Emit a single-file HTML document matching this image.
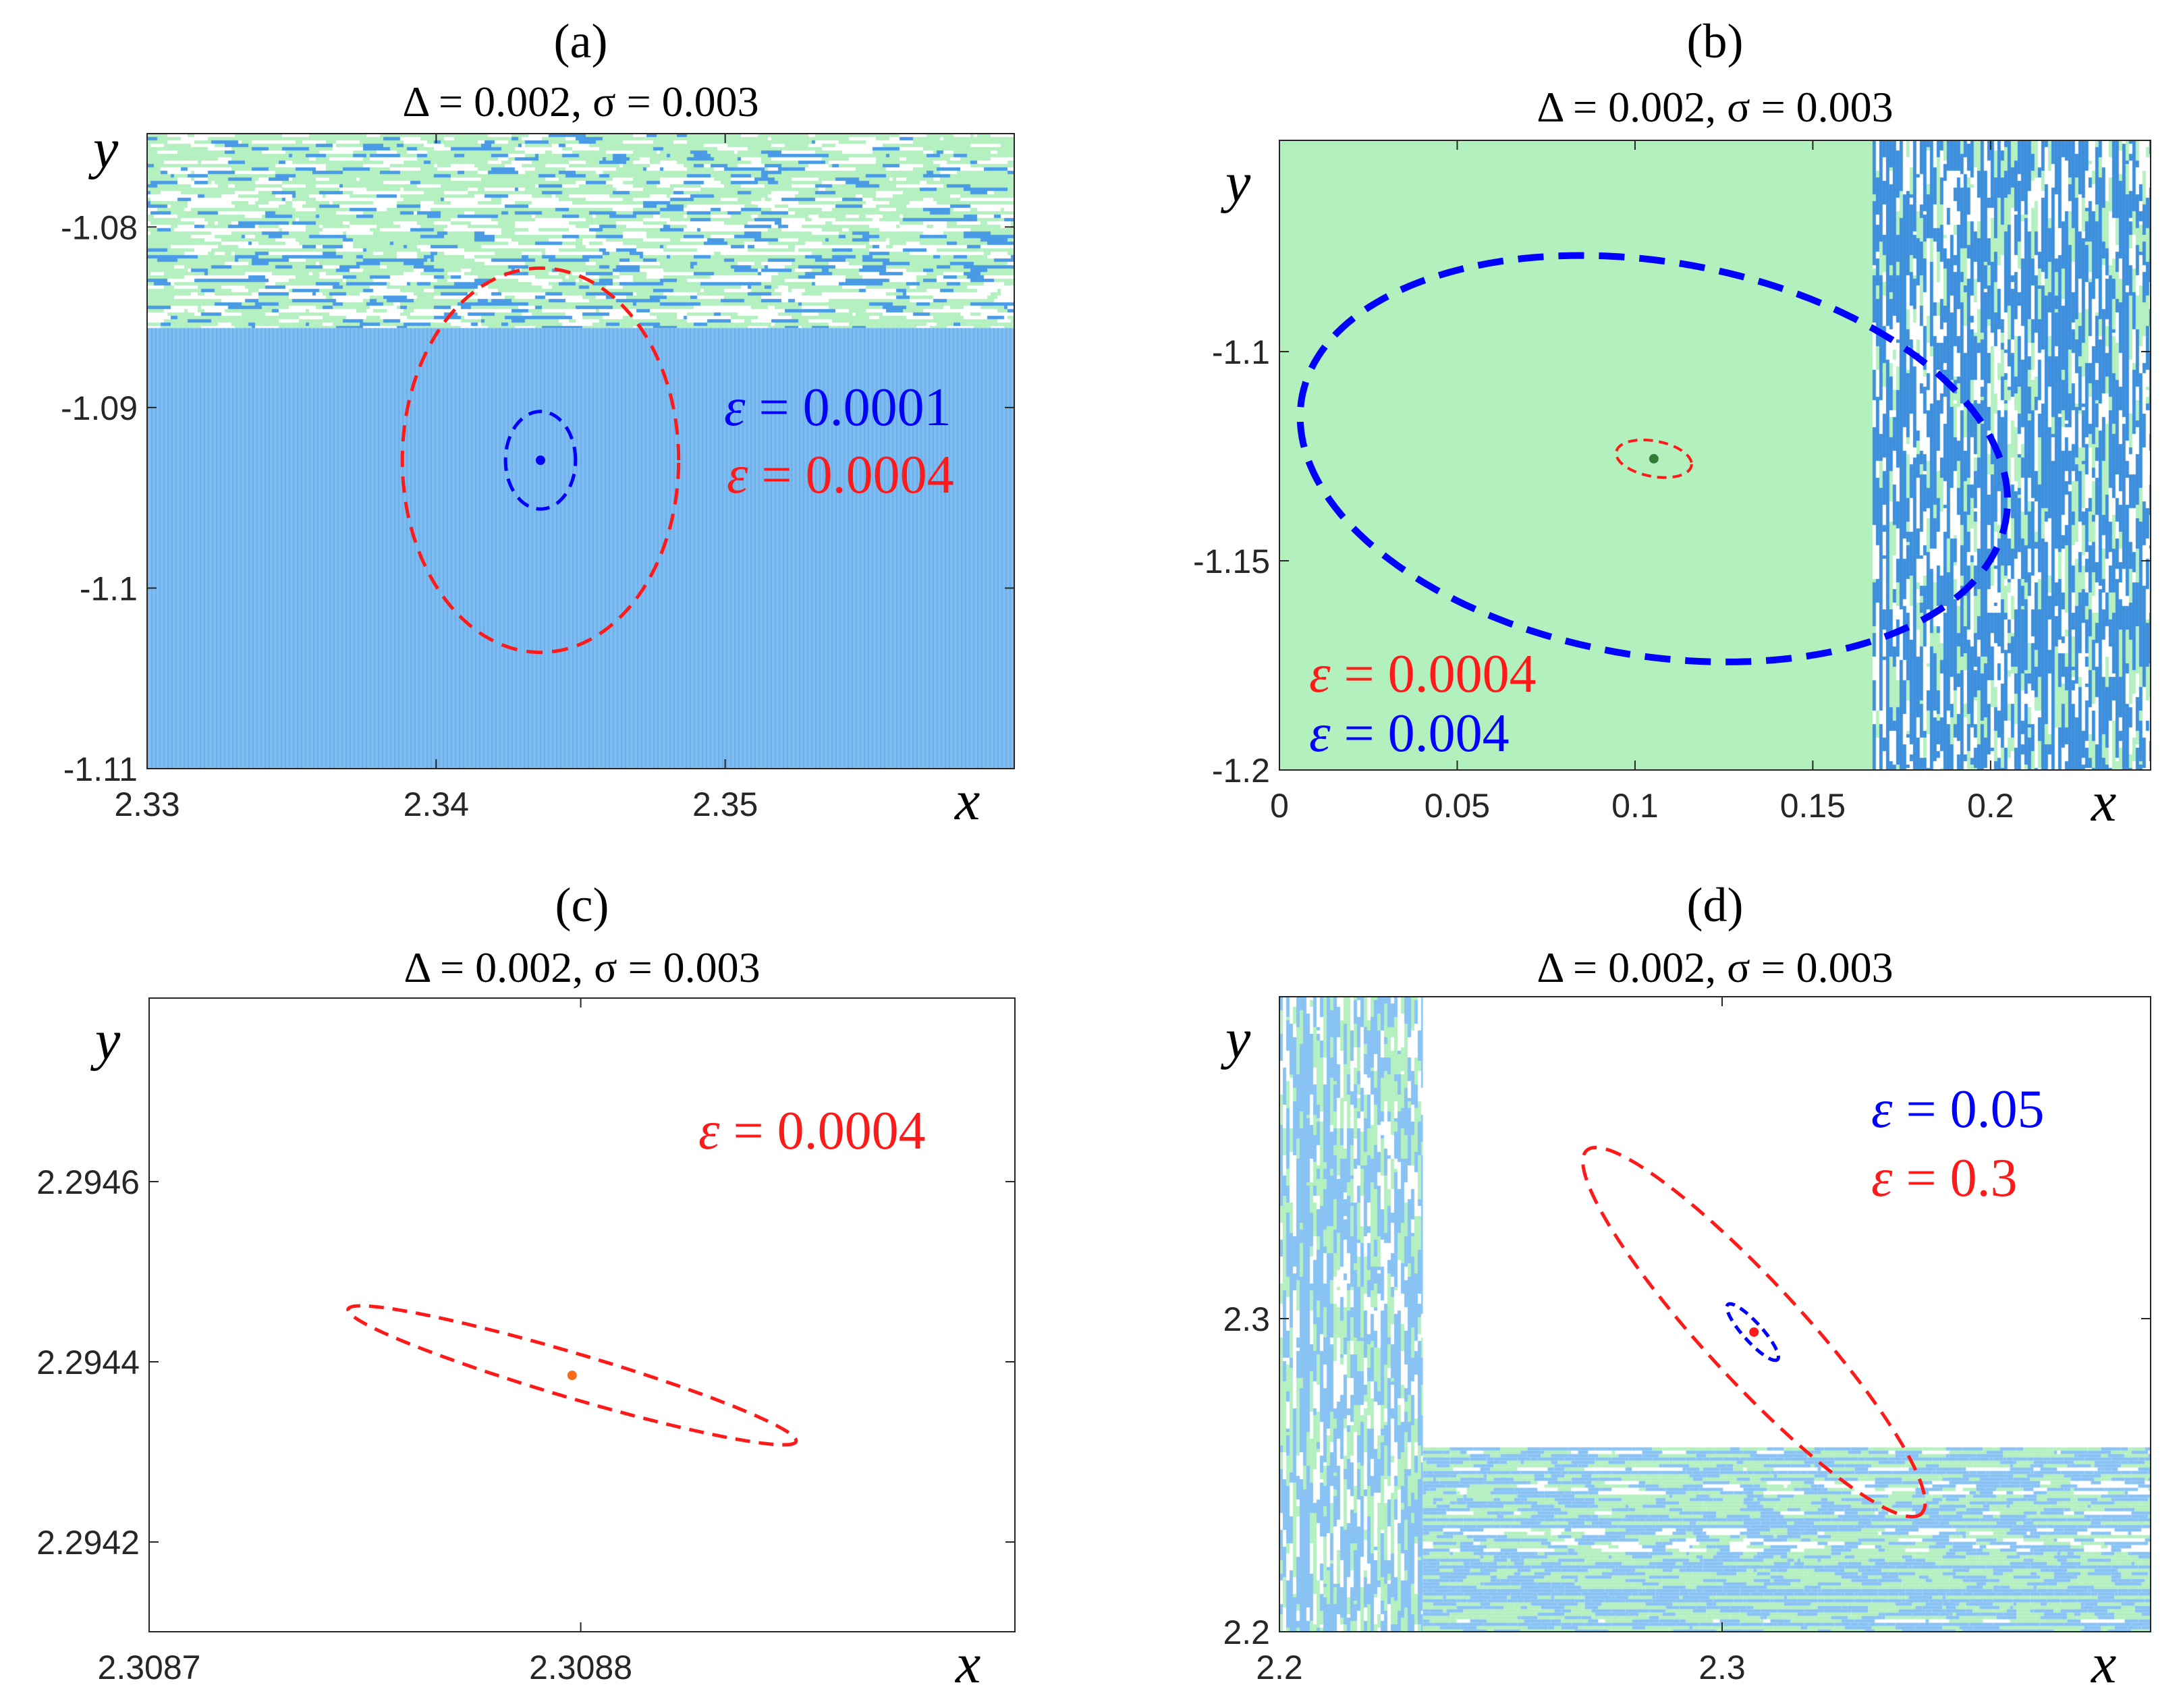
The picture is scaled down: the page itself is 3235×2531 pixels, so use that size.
<!DOCTYPE html>
<html><head><meta charset="utf-8">
<style>
html,body{margin:0;padding:0;background:#fff;}
#wrap{position:relative;width:3235px;height:2531px;overflow:hidden;}
canvas,svg{position:absolute;left:0;top:0;}
.tick{font-family:"Liberation Sans Narrow","Liberation Sans",sans-serif;font-size:50px;fill:#262626;}
.ttl{font-family:"Liberation Serif",serif;font-size:64px;fill:#000;}
.pl{font-family:"Liberation Serif",serif;font-size:72px;fill:#000;}
.ax{font-family:"Liberation Serif",serif;font-style:italic;font-size:84px;fill:#000;}
.leg{font-family:"Liberation Serif",serif;font-size:80px;}
</style></head>
<body>
<div id="wrap">
<canvas id="tex" width="3235" height="2531"></canvas>
<svg id="svg" width="3235" height="2531" xmlns="http://www.w3.org/2000/svg"></svg>
</div>
<script>
// ---- panel definitions (data) ----
const panelLetters = ["(a)","(b)","(c)","(d)"];
const panelTitle = "Δ = 0.002, σ = 0.003";
const xDomains = [[2.33,2.36],[0,0.245],[2.3087,2.3089006],[2.2,2.3968]];
const yDomains = [[-1.11,-1.07483],[-1.2,-1.0495],[2.2941004,2.2948037],[2.2,2.4028]];
const xTickVals = [[2.33,2.34,2.35],[0,0.05,0.1,0.15,0.2],[2.3087,2.3088],[2.2,2.3]];
const xTickLabels = [["2.33","2.34","2.35"],["0","0.05","0.1","0.15","0.2"],["2.3087","2.3088"],["2.2","2.3"]];
const yTickVals = [[-1.11,-1.1,-1.09,-1.08],[-1.2,-1.15,-1.1],[2.2942,2.2944,2.2946],[2.2,2.3]];
const yTickLabels = [["-1.11","-1.1","-1.09","-1.08"],["-1.2","-1.15","-1.1"],["2.2942","2.2944","2.2946"],["2.2","2.3"]];
// ellipses: panel, cx, cy, Ax, Ay, Bx, By (data units), color
const ellPanel = [0,0,1,1,2,3,3];
const ellCx = [2.34361,2.34361,0.1053,0.1053,2.308798,2.3072,2.3069];
const ellCy = [-1.09292,-1.09292,-1.1256,-1.1256,2.294385,2.2957,2.2957];
const ellAx = [0.00478,0.00121,0.0994,0.0106,0.0000519,0.0378,0.0056];
const ellAy = [0,0,-0.0119,-0.0013,-0.0000734,-0.0580,-0.0088];
const ellBx = [0,0,-0.0040,0,-0.0000015,-0.0081,-0.0016];
const ellBy = [0.01064,0.0027,-0.0471,-0.0043,-0.0000237,-0.0106,-0.0020];
const ellColor = ["#ff1a1a","#0000ff","#0000ff","#ff1a1a","#ff1a1a","#ff1a1a","#0000ff"];
const ellWidth = [5,5,10,4,5,5,5];
const ellDash = ["24 14","20 12","38 22","14 9","22 13","24 14","14 9"];
// fixed points
const ptPanel=[0,1,2,3], ptX=[2.34361,0.1053,2.308798,2.3072], ptY=[-1.09292,-1.1256,2.294385,2.2957];
const ptColor=["#0000ff","#2e7d32","#ff6a1a","#ff1a1a"];
// legends
const legPanel=[0,0,1,1,2,3,3];
const legText=["0.0001","0.0004","0.0004","0.004","0.0004","0.05","0.3"];
const legColor=["#0000ff","#ff1a1a","#ff1a1a","#0000ff","#ff1a1a","#0000ff","#ff1a1a"];
const legPx=[1073,1077,1940,1940,1035,2773,2773];
const legPy=[630,730,1025,1113,1702,1670,1772];

// ---- layout ----
const boxes=[{l:218,r:1503,t:198,b:1139},{l:1896,r:3187,t:208,b:1141},{l:221,r:1504,t:1479,b:2418},{l:1896,r:3187,t:1477,b:2418}];
const letterY=[85,85,1365,1365], titleY=[172,180,1455,1455];
const NS="http://www.w3.org/2000/svg";
const svg=document.getElementById('svg');
function X(p,v){const b=boxes[p],d=xDomains[p];return b.l+(v-d[0])/(d[1]-d[0])*(b.r-b.l);}
function Y(p,v){const b=boxes[p],d=yDomains[p];return b.b-(v-d[0])/(d[1]-d[0])*(b.b-b.t);}
function mk(tag,attrs,parent){const e=document.createElementNS(NS,tag);for(const k in attrs)e.setAttribute(k,attrs[k]);(parent||svg).appendChild(e);return e;}

// ---- textures ----
const ctx=document.getElementById('tex').getContext('2d');
let seed=12345;function rnd(){seed=(seed*1103515245+12345)&0x7fffffff;return seed/0x7fffffff;}
const G="#b4f0c0",B1="#4a9be6",LB="#88c3f3";
function pick(blue,pb,pg){const q=rnd();return q<pb?blue:(q<pb+pg?G:"#fff");}
function rowNoise(x0,x1,y0,y1,blue,cs,pb0,pg0){for(let y=y0;y<y1;y+=cs){const r=rnd();const pb=r>0.8?pb0*2.5:pb0;const pg=r<0.2?pg0*0.5:pg0;let x=x0;while(x<x1){const c=pick(blue,pb,pg);const len=cs*(1+Math.floor(rnd()*8));ctx.fillStyle=c;ctx.fillRect(x,y,Math.min(len,x1-x),Math.min(cs,y1-y));x+=len;}}}
function colNoise(x0,x1,y0,y1,blue,cs,pb0,pg0){for(let x=x0;x<x1;x+=cs){const r=rnd();const pb=r>0.75?0.85:pb0;let y=y0;while(y<y1){const c=pick(blue,pb,pg0*(1-pb));const len=cs*(1+Math.floor(rnd()*10));ctx.fillStyle=c;ctx.fillRect(x,y,Math.min(cs,x1-x),Math.min(len,y1-y));y+=len;}}}
// (a)
let b=boxes[0];const aSplit=Y(0,-1.0856);
rowNoise(b.l,b.r,b.t,aSplit,B1,5,0.12,0.62);
ctx.fillStyle="#7fbcf0";ctx.fillRect(b.l,aSplit,b.r-b.l,b.b-aSplit);
ctx.fillStyle="#6aafeb";for(let x=b.l;x<b.r;x+=6)ctx.fillRect(x,aSplit,2,b.b-aSplit);
// (b)
b=boxes[1];const bSplit=X(1,0.1668);
ctx.fillStyle="#b2f0be";ctx.fillRect(b.l,b.t,bSplit-b.l,b.b-b.t);
colNoise(bSplit,b.r,b.t,b.b,"#3d8fdc",5,0.5,0.4);
// (d)
b=boxes[3];const dStrip=X(3,2.2324),dBand=Y(3,2.2589);
colNoise(b.l,dStrip,b.t,b.b,LB,5,0.45,0.6);
rowNoise(dStrip,b.r,dBand,b.b,LB,5,0.4,0.6);

// ---- axes ----
for(let p=0;p<4;p++){
  const bx=boxes[p];
  const g=mk('g',{});
  
  const t1=mk('text',{x:(bx.l+bx.r)/2,y:letterY[p],'text-anchor':'middle',class:'pl'},g);t1.textContent=panelLetters[p];
  
  const t2=mk('text',{x:(bx.l+bx.r)/2,y:titleY[p],'text-anchor':'middle',class:'ttl'},g);t2.textContent=panelTitle;
  
  const fr=mk('rect',{x:bx.l,y:bx.t,width:bx.r-bx.l,height:bx.b-bx.t,fill:'none',stroke:'#262626','stroke-width':2},g);
  
  xTickVals[p].forEach((v,i)=>{const x=X(p,v);
    mk('line',{x1:x,x2:x,y1:bx.b,y2:bx.b-14,stroke:'#262626','stroke-width':2},g);
    mk('line',{x1:x,x2:x,y1:bx.t,y2:bx.t+14,stroke:'#262626','stroke-width':2},g);
    const t=mk('text',{x:x,y:bx.b+70,'text-anchor':'middle',class:'tick'},g);t.textContent=xTickLabels[p][i];
    });
  yTickVals[p].forEach((v,i)=>{const y=Y(p,v);
    mk('line',{x1:bx.l,x2:bx.l+14,y1:y,y2:y,stroke:'#262626','stroke-width':2},g);
    mk('line',{x1:bx.r,x2:bx.r-14,y1:y,y2:y,stroke:'#262626','stroke-width':2},g);
    const t=mk('text',{x:bx.l-14,y:y+18,'text-anchor':'end',class:'tick'},g);t.textContent=yTickLabels[p][i];
    });
  const xl=mk('text',{x:bx.r-88,y:bx.b+75,class:'ax'},g);xl.textContent='x';
  
  const yl=mk('text',{x:bx.l-80,y:bx.t+(p<2?50:90)+(p==1?40:0),class:'ax'},g);yl.textContent='y';
  
}
// ellipses
for(let i=0;i<ellCx.length;i++){const p=ellPanel[i];let d="";
  for(let k=0;k<=180;k++){const t=k/180*2*Math.PI;
    const vx=ellCx[i]+ellAx[i]*Math.cos(t)+ellBx[i]*Math.sin(t);
    const vy=ellCy[i]+ellAy[i]*Math.cos(t)+ellBy[i]*Math.sin(t);
    d+=(k?"L":"M")+X(p,vx).toFixed(1)+" "+Y(p,vy).toFixed(1);}
  const e=mk('path',{d:d+"Z",fill:'none',stroke:ellColor[i],'stroke-width':ellWidth[i],'stroke-dasharray':ellDash[i]});
  
}
for(let i=0;i<ptX.length;i++){const p=ptPanel[i];
  const c=mk('circle',{cx:X(p,ptX[i]),cy:Y(p,ptY[i]),r:7,fill:ptColor[i]});
  }
for(let i=0;i<legText.length;i++){
  const t=mk('text',{x:legPx[i],y:legPy[i],class:'leg',fill:legColor[i]});
  const s=mk('tspan',{'font-style':'italic'},t);s.textContent='ε';
  const s2=mk('tspan',{},t);s2.textContent=' = '+legText[i];
  }
</script>
</body></html>
